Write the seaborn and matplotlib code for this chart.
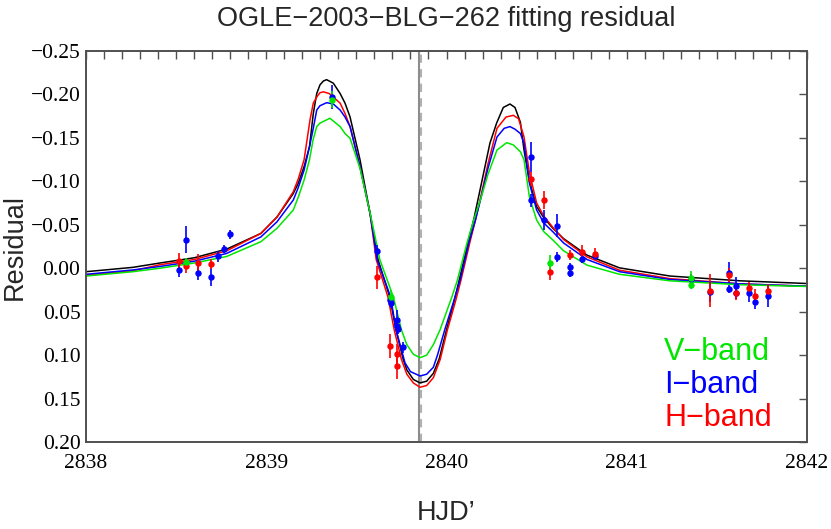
import numpy as np
import pandas as pd
import matplotlib
matplotlib.use("Agg")
import matplotlib.pyplot as plt
from matplotlib.ticker import FuncFormatter, MultipleLocator
import seaborn as sns

# ---------------- model curves ----------------
black_x = [2838.00, 2838.26, 2838.41, 2838.60, 2838.78, 2838.97, 2839.06, 2839.15, 2839.178, 2839.21,
           2839.24, 2839.261, 2839.28, 2839.298, 2839.317, 2839.335, 2839.372, 2839.41, 2839.437, 2839.465,
           2839.52, 2839.576, 2839.62, 2839.685, 2839.72, 2839.76, 2839.78, 2839.816, 2839.853, 2839.89,
           2839.927, 2839.96, 2840.00, 2840.04, 2840.07, 2840.12, 2840.15, 2840.19, 2840.241, 2840.278,
           2840.315, 2840.352, 2840.38, 2840.41, 2840.43, 2840.46, 2840.50, 2840.54, 2840.59, 2840.65,
           2840.78, 2840.96, 2841.24, 2841.63, 2842.00]
black_y = [0.004, -0.001, -0.006, -0.012, -0.022, -0.040, -0.059, -0.086, -0.098, -0.117,
           -0.140, -0.178, -0.201, -0.211, -0.2155, -0.217, -0.213, -0.201, -0.190, -0.174,
           -0.125, -0.063, -0.010, 0.033, 0.071, 0.105, 0.117, 0.128, 0.132, 0.130,
           0.121, 0.104, 0.071, 0.040, 0.014, -0.030, -0.055, -0.094, -0.144, -0.167,
           -0.185, -0.189, -0.185, -0.168, -0.136, -0.100, -0.071, -0.058, -0.046, -0.034,
           -0.015, -0.0004, 0.009, 0.0145, 0.0176]

red_x = [2838.00, 2838.26, 2838.41, 2838.60, 2838.78, 2838.97, 2839.06, 2839.15, 2839.178, 2839.21,
         2839.243, 2839.261, 2839.28, 2839.298, 2839.317, 2839.35, 2839.41, 2839.437, 2839.465, 2839.52,
         2839.576, 2839.61, 2839.675, 2839.71, 2839.75, 2839.78, 2839.816, 2839.853, 2839.89, 2839.927,
         2839.965, 2840.005, 2840.05, 2840.08, 2840.13, 2840.16, 2840.19, 2840.23, 2840.28, 2840.33,
         2840.371, 2840.40, 2840.43, 2840.46, 2840.50, 2840.54, 2840.59, 2840.65, 2840.78, 2840.96,
         2841.24, 2841.63, 2842.00]
red_y = [0.008, 0.003, -0.004, -0.010, -0.020, -0.040, -0.059, -0.088, -0.103, -0.125,
         -0.171, -0.190, -0.197, -0.202, -0.203, -0.201, -0.190, -0.178, -0.163, -0.117,
         -0.063, -0.010, 0.033, 0.071, 0.105, 0.122, 0.132, 0.137, 0.135, 0.126,
         0.105, 0.071, 0.038, 0.014, -0.030, -0.055, -0.082, -0.120, -0.161, -0.174,
         -0.176, -0.172, -0.151, -0.110, -0.075, -0.060, -0.047, -0.033, -0.013, 0.0023,
         0.012, 0.018, 0.0207]

blue_x = [2838.00, 2838.26, 2838.41, 2838.60, 2838.78, 2838.97, 2839.06, 2839.15, 2839.178, 2839.21,
          2839.24, 2839.26, 2839.28, 2839.298, 2839.335, 2839.372, 2839.41, 2839.437, 2839.465, 2839.52,
          2839.576, 2839.615, 2839.69, 2839.72, 2839.77, 2839.80, 2839.853, 2839.89, 2839.927, 2839.95,
          2839.99, 2840.04, 2840.075, 2840.125, 2840.16, 2840.19, 2840.23, 2840.28, 2840.32, 2840.352,
          2840.38, 2840.41, 2840.43, 2840.46, 2840.50, 2840.54, 2840.59, 2840.65, 2840.78, 2840.96,
          2841.24, 2841.63, 2842.00]
blue_y = [0.007, 0.002, -0.002, -0.008, -0.017, -0.036, -0.0535, -0.0785, -0.093, -0.113,
          -0.140, -0.160, -0.182, -0.187, -0.1905, -0.189, -0.182, -0.174, -0.163, -0.117,
          -0.063, -0.010, 0.033, 0.071, 0.109, 0.119, 0.124, 0.122, 0.114, 0.100,
          0.071, 0.038, 0.014, -0.030, -0.055, -0.080, -0.115, -0.151, -0.161, -0.163,
          -0.160, -0.155, -0.144, -0.098, -0.067, -0.052, -0.042, -0.029, -0.010, 0.004,
          0.013, 0.018, 0.0207]

green_x = [2838.00, 2838.26, 2838.41, 2838.60, 2838.78, 2838.97, 2839.06, 2839.15, 2839.178, 2839.21,
           2839.24, 2839.26, 2839.28, 2839.298, 2839.353, 2839.41, 2839.437, 2839.465, 2839.52, 2839.58,
           2839.63, 2839.705, 2839.75, 2839.78, 2839.816, 2839.853, 2839.89, 2839.927, 2839.964, 2840.03,
           2840.06, 2840.115, 2840.15, 2840.19, 2840.23, 2840.28, 2840.334, 2840.37, 2840.41, 2840.43,
           2840.46, 2840.50, 2840.54, 2840.59, 2840.65, 2840.78, 2840.96, 2841.24, 2841.63, 2842.00]
green_y = [0.009, 0.004, 0.000, -0.006, -0.0135, -0.0305, -0.046, -0.067, -0.082, -0.1015,
           -0.125, -0.148, -0.163, -0.167, -0.1726, -0.163, -0.155, -0.1495, -0.115, -0.060,
           -0.010, 0.033, 0.071, 0.088, 0.099, 0.103, 0.100, 0.088, 0.071, 0.033,
           0.014, -0.030, -0.055, -0.080, -0.108, -0.136, -0.1445, -0.142, -0.134, -0.125,
           -0.082, -0.0555, -0.042, -0.0325, -0.020, -0.0035, 0.007, 0.0145, 0.019, 0.021]

# ---------------- data points (x, residual, error) ----------------
I_x = [2838.516, 2838.553, 2838.623, 2838.693, 2838.730, 2838.764, 2838.799, 2839.367, 2839.613, 2839.685,
       2839.692, 2839.724, 2839.724, 2839.729, 2839.757, 2840.471, 2840.471, 2840.539, 2840.611, 2840.611,
       2840.683, 2840.683, 2840.754, 2840.824, 2841.356, 2841.462, 2841.569, 2841.569, 2841.604, 2841.604,
       2841.676, 2841.711, 2841.782]
I_y = [0.002, -0.033, 0.0055, 0.010, -0.0135, -0.022, -0.039, -0.197, -0.020, 0.037,
       0.040, 0.060, 0.067, 0.070, 0.091, -0.128, -0.078, -0.0555, -0.049, -0.0126,
       -0.001, 0.005, -0.011, -0.014, 0.012, 0.027, 0.005, 0.024, 0.020, 0.029,
       0.028, 0.039, 0.032]
I_e = [0.008, 0.016, 0.008, 0.010, 0.006, 0.005, 0.005, 0.014, 0.007, 0.006,
       0.006, 0.012, 0.008, 0.006, 0.006, 0.017, 0.007, 0.012, 0.013, 0.006,
       0.005, 0.005, 0.005, 0.005, 0.005, 0.012, 0.012, 0.005, 0.010, 0.006,
       0.011, 0.008, 0.013]

H_x = [2838.516, 2838.553, 2838.623, 2838.693, 2839.616, 2839.688, 2839.724, 2839.724, 2840.471, 2840.539,
       2840.576, 2840.683, 2840.754, 2840.824, 2841.462, 2841.569, 2841.604, 2841.676, 2841.711, 2841.782]
H_y = [-0.008, -0.003, -0.006, -0.005, 0.0106, 0.0895, 0.099, 0.113, -0.103, -0.0785,
       0.004, -0.015, -0.019, -0.016, 0.026, 0.0078, 0.029, 0.0224, 0.0316, 0.0266]
H_e = [0.009, 0.008, 0.010, 0.006, 0.013, 0.014, 0.012, 0.014, 0.008, 0.010,
       0.009, 0.006, 0.008, 0.007, 0.019, 0.008, 0.008, 0.007, 0.008, 0.008]

V_x = [2838.553, 2839.367, 2839.690, 2840.576, 2841.356, 2841.356]
V_y = [-0.007, -0.194, 0.033, -0.0055, 0.0118, 0.0193]
V_e = [0.005, 0.010, 0.008, 0.010, 0.009, 0.005]

caustic_x = 2839.847
caustic2_x = 2839.861

x_ticks = [2838, 2839, 2840, 2841, 2842]
band_labels = ["V\u2212band", "I\u2212band", "H\u2212band"]

GREEN, BLUE, RED, BLACK = "#00e600", "#0000ff", "#ff0000", "#000000"

sns.set_style("white")
plt.rcParams["font.family"] = ["Liberation Sans", "DejaVu Sans"]

fig = plt.figure(figsize=(8.31, 5.29), dpi=100)
ax = fig.add_axes([86/831, 1-442/529, (807-86)/831, (442-51)/529])

curves = pd.concat([
    pd.DataFrame({"x": black_x, "y": black_y, "model": "black"}),
    pd.DataFrame({"x": red_x, "y": red_y, "model": "H"}),
    pd.DataFrame({"x": blue_x, "y": blue_y, "model": "I"}),
    pd.DataFrame({"x": green_x, "y": green_y, "model": "V"}),
], ignore_index=True)

ax.axvline(caustic_x, color="#8c8c8c", lw=1.5, zorder=1)
ax.axvline(caustic2_x, color="#b0b0b0", lw=1.5, ls=(0, (4, 3)), zorder=1)

for x, y, e, c in [(I_x, I_y, I_e, BLUE), (H_x, H_y, H_e, RED), (V_x, V_y, V_e, GREEN)]:
    ax.errorbar(x, y, yerr=e, fmt="o", color=c, ms=3.6, elinewidth=1.2, capsize=0, zorder=3)

sns.lineplot(data=curves, x="x", y="y", hue="model",
             palette={"black": BLACK, "H": RED, "I": BLUE, "V": GREEN},
             lw=1.1, sort=False, estimator=None, legend=False, ax=ax, zorder=2)

ax.set_xlim(2838, 2842)
ax.set_ylim(0.20, -0.25)
ax.set_xticks(x_ticks)
ax.xaxis.set_minor_locator(MultipleLocator(0.1))
ax.yaxis.set_major_locator(MultipleLocator(0.05))

def yfmt(v, pos):
    v = round(v, 4)
    if abs(v) < 1e-9:
        v = 0.0
    return f"{v:.2f}".replace("-", "\u2212")
ax.yaxis.set_major_formatter(FuncFormatter(yfmt))

frame_c = "#505050"
for s in ax.spines.values():
    s.set_color(frame_c)
    s.set_linewidth(1.4)
ax.tick_params(axis="both", which="both", direction="in", top=True, right=True,
               color=frame_c, width=1.0)
ax.tick_params(axis="x", which="both", length=6)
ax.tick_params(axis="y", which="major", length=6, pad=4)
ax.tick_params(axis="x", which="major", pad=9)
for lab in ax.get_xticklabels() + ax.get_yticklabels():
    lab.set_fontfamily(["Liberation Serif", "DejaVu Serif"])
    lab.set_fontsize(15.5)
    lab.set_color("black")

ax.set_title("OGLE\u22122003\u2212BLG\u2212262 fitting residual", fontsize=19.5, pad=18)
ax.set_xlabel("HJD\u2019", fontsize=19.5, labelpad=19)
ax.set_ylabel("Residual", fontsize=19.5, labelpad=2)

ax.text(0.802, 0.230, band_labels[0], color=GREEN, fontsize=22, transform=ax.transAxes, va="center", ha="left")
ax.text(0.802, 0.146, band_labels[1], color=BLUE, fontsize=22, transform=ax.transAxes, va="center", ha="left")
ax.text(0.802, 0.061, band_labels[2], color=RED, fontsize=22, transform=ax.transAxes, va="center", ha="left")

fig.savefig("out.png", dpi=100)
